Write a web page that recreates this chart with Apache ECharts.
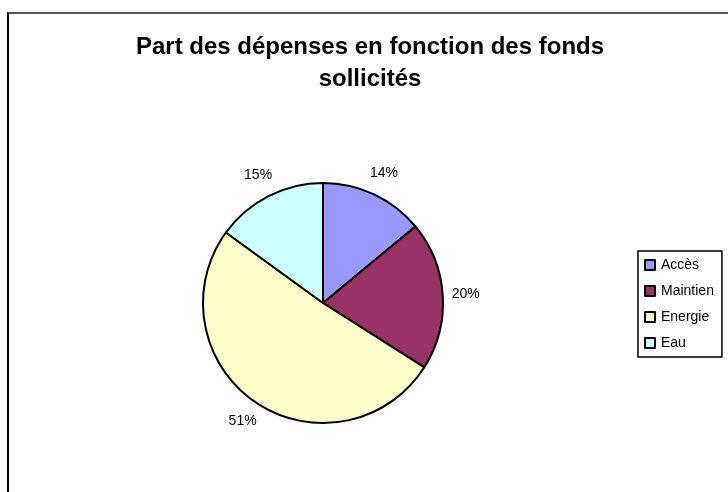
<!DOCTYPE html>
<html>
<head>
<meta charset="utf-8">
<script src="https://cdn.jsdelivr.net/npm/echarts@6/dist/echarts.min.js"></script>
<style>
  html, body { margin: 0; padding: 0; background: #fff; overflow: hidden; }
  #frame { position: absolute; left: 7px; top: 12px; width: 740px; height: 500px;
           border-left: 2px solid #000; border-top: 2px solid #555; }
  #chart { position: absolute; left: 0; top: 0; width: 740px; height: 492px; }
</style>
</head>
<body>
<div id="frame"></div>
<div id="chart"></div>
<script>
// catégories et parts (%)
const categories = ['Accès', 'Maintien', 'Energie', 'Eau'];
const parts = [14, 20, 51, 15];
const colors = ['#9999FF', '#993366', '#FFFFCC', '#CCFFFF'];
const titre = 'Part des dépenses en fonction des fonds\nsollicités';

const pieData = categories.map((name, i) => ({ name: name, value: parts[i] }));

const font = 'Liberation Sans, Arial, sans-serif';

const option = {
    animation: false,
    color: colors,
    title: {
        text: titre,
        left: 'center',
        top: 26,
        textStyle: {
            fontFamily: font,
            fontWeight: 'bold',
            fontSize: 24,
            lineHeight: 32,
            color: '#000'
        }
    },
    legend: {
        orient: 'vertical',
        left: 638,
        top: 251,
        padding: [7, 8, 7, 6],
        itemGap: 12,
        itemWidth: 10,
        itemHeight: 10,
        icon: 'rect',
        borderColor: '#000',
        borderWidth: 1.5,
        borderRadius: 0,
        data: categories,
        itemStyle: { borderColor: '#000', borderWidth: 2 },
        textStyle: { fontFamily: font, fontSize: 14, color: '#000', padding: [0, 0, 0, 1] }
    },
    series: [
        {
            type: 'pie',
            center: [323, 303],
            radius: 120,
            startAngle: 90,
            clockwise: true,
            silent: true,
            itemStyle: { borderColor: '#000', borderWidth: 2 },
            label: { show: false },
            labelLine: { show: false },
            data: pieData
        },
        {
            // couche des étiquettes, posées autour du camembert
            type: 'pie',
            center: [323, 303],
            radius: [120, 160],
            startAngle: 90,
            clockwise: true,
            silent: true,
            legendHoverLink: false,
            itemStyle: { color: 'rgba(0,0,0,0)', borderWidth: 0 },
            label: {
                show: true,
                position: 'inside',
                formatter: '{c}%',
                fontFamily: font,
                fontSize: 14,
                color: '#000'
            },
            labelLine: { show: false },
            data: pieData
        }
    ]
};

const chart = echarts.init(document.getElementById('chart'));
chart.setOption(option);
</script>
</body>
</html>
